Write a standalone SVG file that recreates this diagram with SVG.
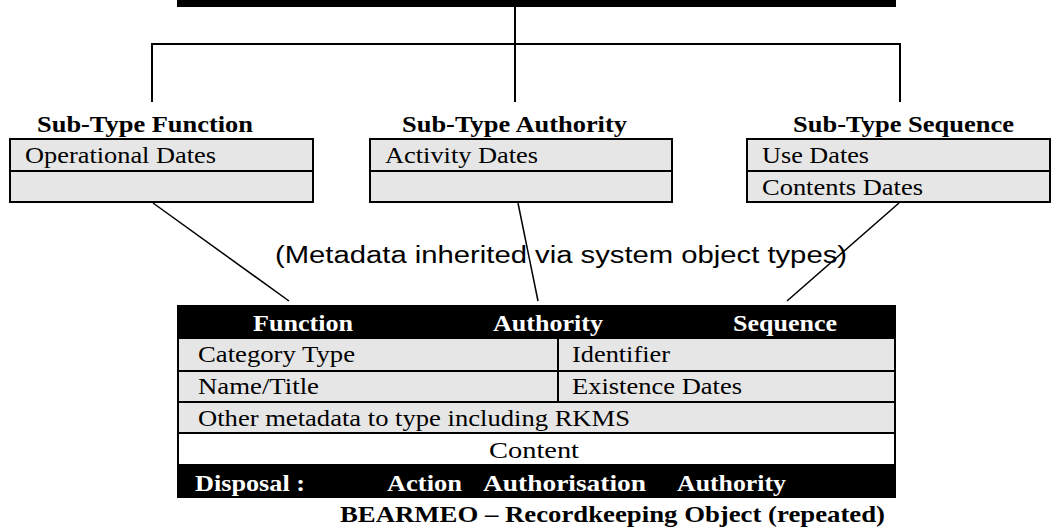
<svg xmlns="http://www.w3.org/2000/svg" width="1056" height="529" viewBox="0 0 1056 529">
<style>
.t{font-family:"Liberation Serif","Times New Roman",serif;font-size:24px;fill:#000}
.b{font-family:"Liberation Serif","Times New Roman",serif;font-size:24px;font-weight:bold;fill:#000}
.w{font-family:"Liberation Serif","Times New Roman",serif;font-size:24px;font-weight:bold;fill:#fff}
.a{font-family:"Liberation Sans",Arial,sans-serif;font-size:23px;fill:#000}
.box{fill:#e6e6e6;stroke:#000;stroke-width:2}
.wbox{fill:#fff;stroke:#000;stroke-width:2}
.blk{fill:#000}
.ln{stroke:#000;stroke-width:2;fill:none}
.dg{stroke:#000;stroke-width:1.5;fill:none}
</style>
<rect width="1056" height="529" fill="#fff"/>
<g id="top-bar"><rect class="blk" x="177" y="0" width="719" height="7"/></g>
<g id="connectors">
<line class="ln" x1="515" y1="7" x2="515" y2="102"/>
<line class="ln" x1="152" y1="44" x2="900" y2="44"/>
<line class="ln" x1="152" y1="43" x2="152" y2="102"/>
<line class="ln" x1="900" y1="43" x2="900" y2="102"/>
<line class="dg" x1="153" y1="203" x2="289" y2="301"/>
<line class="dg" x1="518" y1="203" x2="538" y2="301"/>
<line class="dg" x1="899" y1="203" x2="787" y2="301"/>
</g>
<g id="subtype-function">
<text class="b" x="37" y="132" textLength="216" lengthAdjust="spacingAndGlyphs">Sub-Type Function</text>
<rect class="box" x="10" y="139" width="303" height="32"/>
<rect class="box" x="10" y="171" width="303" height="31"/>
<text class="t" x="25" y="163" textLength="191" lengthAdjust="spacingAndGlyphs">Operational Dates</text>
</g>
<g id="subtype-authority">
<text class="b" x="402" y="132" textLength="225" lengthAdjust="spacingAndGlyphs">Sub-Type Authority</text>
<rect class="box" x="370" y="139" width="302" height="32"/>
<rect class="box" x="370" y="171" width="302" height="31"/>
<text class="t" x="385" y="163" textLength="153" lengthAdjust="spacingAndGlyphs">Activity Dates</text>
</g>
<g id="subtype-sequence">
<text class="b" x="793" y="132" textLength="221" lengthAdjust="spacingAndGlyphs">Sub-Type Sequence</text>
<rect class="box" x="747" y="139" width="303" height="32"/>
<rect class="box" x="747" y="171" width="303" height="31"/>
<text class="t" x="762" y="163" textLength="107" lengthAdjust="spacingAndGlyphs">Use Dates</text>
<text class="t" x="762" y="195" textLength="161" lengthAdjust="spacingAndGlyphs">Contents Dates</text>
</g>
<g id="metadata-label">
<text class="a" x="275" y="263" textLength="572" lengthAdjust="spacingAndGlyphs">(Metadata inherited via system object types)</text>
</g>
<g id="recordkeeping-object">
<rect class="blk" x="177" y="305" width="719" height="33"/>
<text class="w" x="253" y="331" textLength="100" lengthAdjust="spacingAndGlyphs">Function</text>
<text class="w" x="493" y="331" textLength="110" lengthAdjust="spacingAndGlyphs">Authority</text>
<text class="w" x="733" y="331" textLength="104" lengthAdjust="spacingAndGlyphs">Sequence</text>
<rect class="box" x="178" y="338" width="717" height="33"/>
<rect class="box" x="178" y="371" width="717" height="31"/>
<line class="ln" x1="558" y1="338" x2="558" y2="402"/>
<text class="t" x="198" y="362" textLength="157" lengthAdjust="spacingAndGlyphs">Category Type</text>
<text class="t" x="572" y="362" textLength="98" lengthAdjust="spacingAndGlyphs">Identifier</text>
<text class="t" x="198" y="394" textLength="121" lengthAdjust="spacingAndGlyphs">Name/Title</text>
<text class="t" x="572" y="394" textLength="170" lengthAdjust="spacingAndGlyphs">Existence Dates</text>
<rect class="box" x="178" y="402" width="717" height="31"/>
<text class="t" x="198" y="426" textLength="432" lengthAdjust="spacingAndGlyphs">Other metadata to type including RKMS</text>
<rect class="wbox" x="178" y="433" width="717" height="32"/>
<text class="t" x="489" y="458" textLength="90" lengthAdjust="spacingAndGlyphs">Content</text>
<rect class="blk" x="177" y="465" width="719" height="33"/>
<text class="w" x="195" y="491" textLength="110" lengthAdjust="spacingAndGlyphs">Disposal :</text>
<text class="w" x="387" y="491" textLength="75" lengthAdjust="spacingAndGlyphs">Action</text>
<text class="w" x="483" y="491" textLength="163" lengthAdjust="spacingAndGlyphs">Authorisation</text>
<text class="w" x="677" y="491" textLength="109" lengthAdjust="spacingAndGlyphs">Authority</text>
<text class="b" x="340" y="522" textLength="545" lengthAdjust="spacingAndGlyphs">BEARMEO – Recordkeeping Object (repeated)</text>
</g>
</svg>
